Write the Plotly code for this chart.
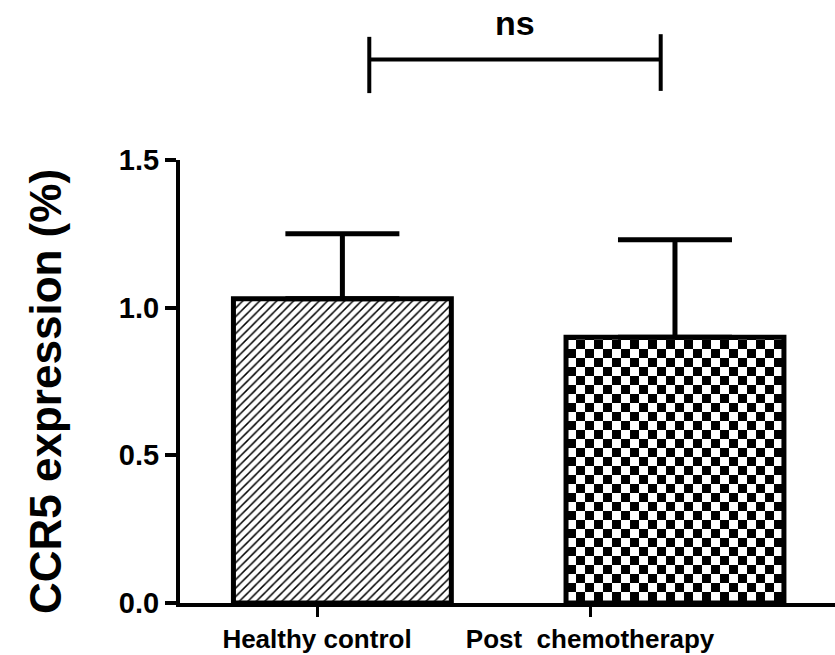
import plotly.graph_objects as go
from plotly.graph_objs.bar.marker import Pattern

# ---- data ----
groups = ["Healthy control", "Post\u00a0 chemotherapy"]
means = [1.03, 0.90]
sem_up = [0.22, 0.33]
y_ticks = [0.0, 0.5, 1.0, 1.5]
y_ticktext = ["0.0", "0.5", "1.0", "1.5"]
sig_label = "ns"
y_title = "CCR5 expression (%)"

FONT = "Liberation Sans, Arial, sans-serif"

has_path = "path" in getattr(Pattern(), "_valid_props", set())

hatch = dict(shape="/", size=6, solidity=0.25, fgcolor="black", bgcolor="white", fillmode="replace")
if has_path:
    checker = dict(path="M0,0H9V9H0ZM9,9H18V18H9Z", size=18, fgcolor="black", bgcolor="white", fillmode="replace")
else:
    checker = dict(shape=".", size=12, solidity=0.5, fgcolor="black", bgcolor="white", fillmode="replace")

fig = go.Figure()
offsets = [-0.306, -0.088]
for i in range(2):
    fig.add_trace(go.Bar(
        x=[groups[i]], y=[means[i]],
        width=0.798, offset=offsets[i],
        marker=dict(color="white", line=dict(color="black", width=5),
                    pattern=hatch if i == 0 else checker),
        error_y=dict(type="data", array=[sem_up[i]], arrayminus=[0], symmetric=False,
                     color="black", thickness=5, width=57),
        showlegend=False,
    ))

fig.update_layout(
    width=835, height=655,
    margin=dict(l=180, r=0, t=160, b=52),
    paper_bgcolor="white", plot_bgcolor="white",
    barmode="overlay",
    font=dict(family=FONT, color="black"),
    xaxis=dict(type="category", categoryorder="array", categoryarray=groups,
               range=[-0.5017, 1.897], showgrid=False, zeroline=False,
               showline=True, linewidth=4, linecolor="black",
               ticks="outside", ticklen=10, tickwidth=3, tickcolor="black",
               tickfont=dict(family=FONT, size=26, weight="bold", color="black")),
    yaxis=dict(range=[0, 1.5], tickvals=y_ticks, ticktext=y_ticktext,
               showgrid=False, zeroline=False,
               showline=True, linewidth=4, linecolor="black",
               ticks="outside", ticklen=11, tickwidth=3.5, tickcolor="black",
               tickfont=dict(family=FONT, size=29, weight="bold", color="black")),
)

fig.add_annotation(text=y_title, textangle=-90, xref="paper", yref="paper",
                   x=-0.2046, y=0.4786, xanchor="center", yanchor="middle", showarrow=False,
                   font=dict(family=FONT, size=44, weight="bold", color="black"))
fig.add_annotation(text=sig_label, xref="x", yref="paper", x=0.725, y=1.31,
                   xanchor="center", yanchor="middle", showarrow=False,
                   font=dict(family=FONT, size=34, weight="bold", color="black"))

bx0, bx1 = 0.1915, 1.2587
fig.add_shape(type="line", xref="x", yref="paper", x0=bx0, x1=bx1, y0=1.227, y1=1.227,
              line=dict(color="black", width=4))
fig.add_shape(type="line", xref="x", yref="paper", x0=bx0, x1=bx0, y0=1.151, y1=1.278,
              line=dict(color="black", width=4))
fig.add_shape(type="line", xref="x", yref="paper", x0=bx1, x1=bx1, y0=1.156, y1=1.284,
              line=dict(color="black", width=4))

fig.write_html("out.html", config={"displayModeBar": False},
               post_script="document.body.style.margin='0';document.body.style.padding='0';")
